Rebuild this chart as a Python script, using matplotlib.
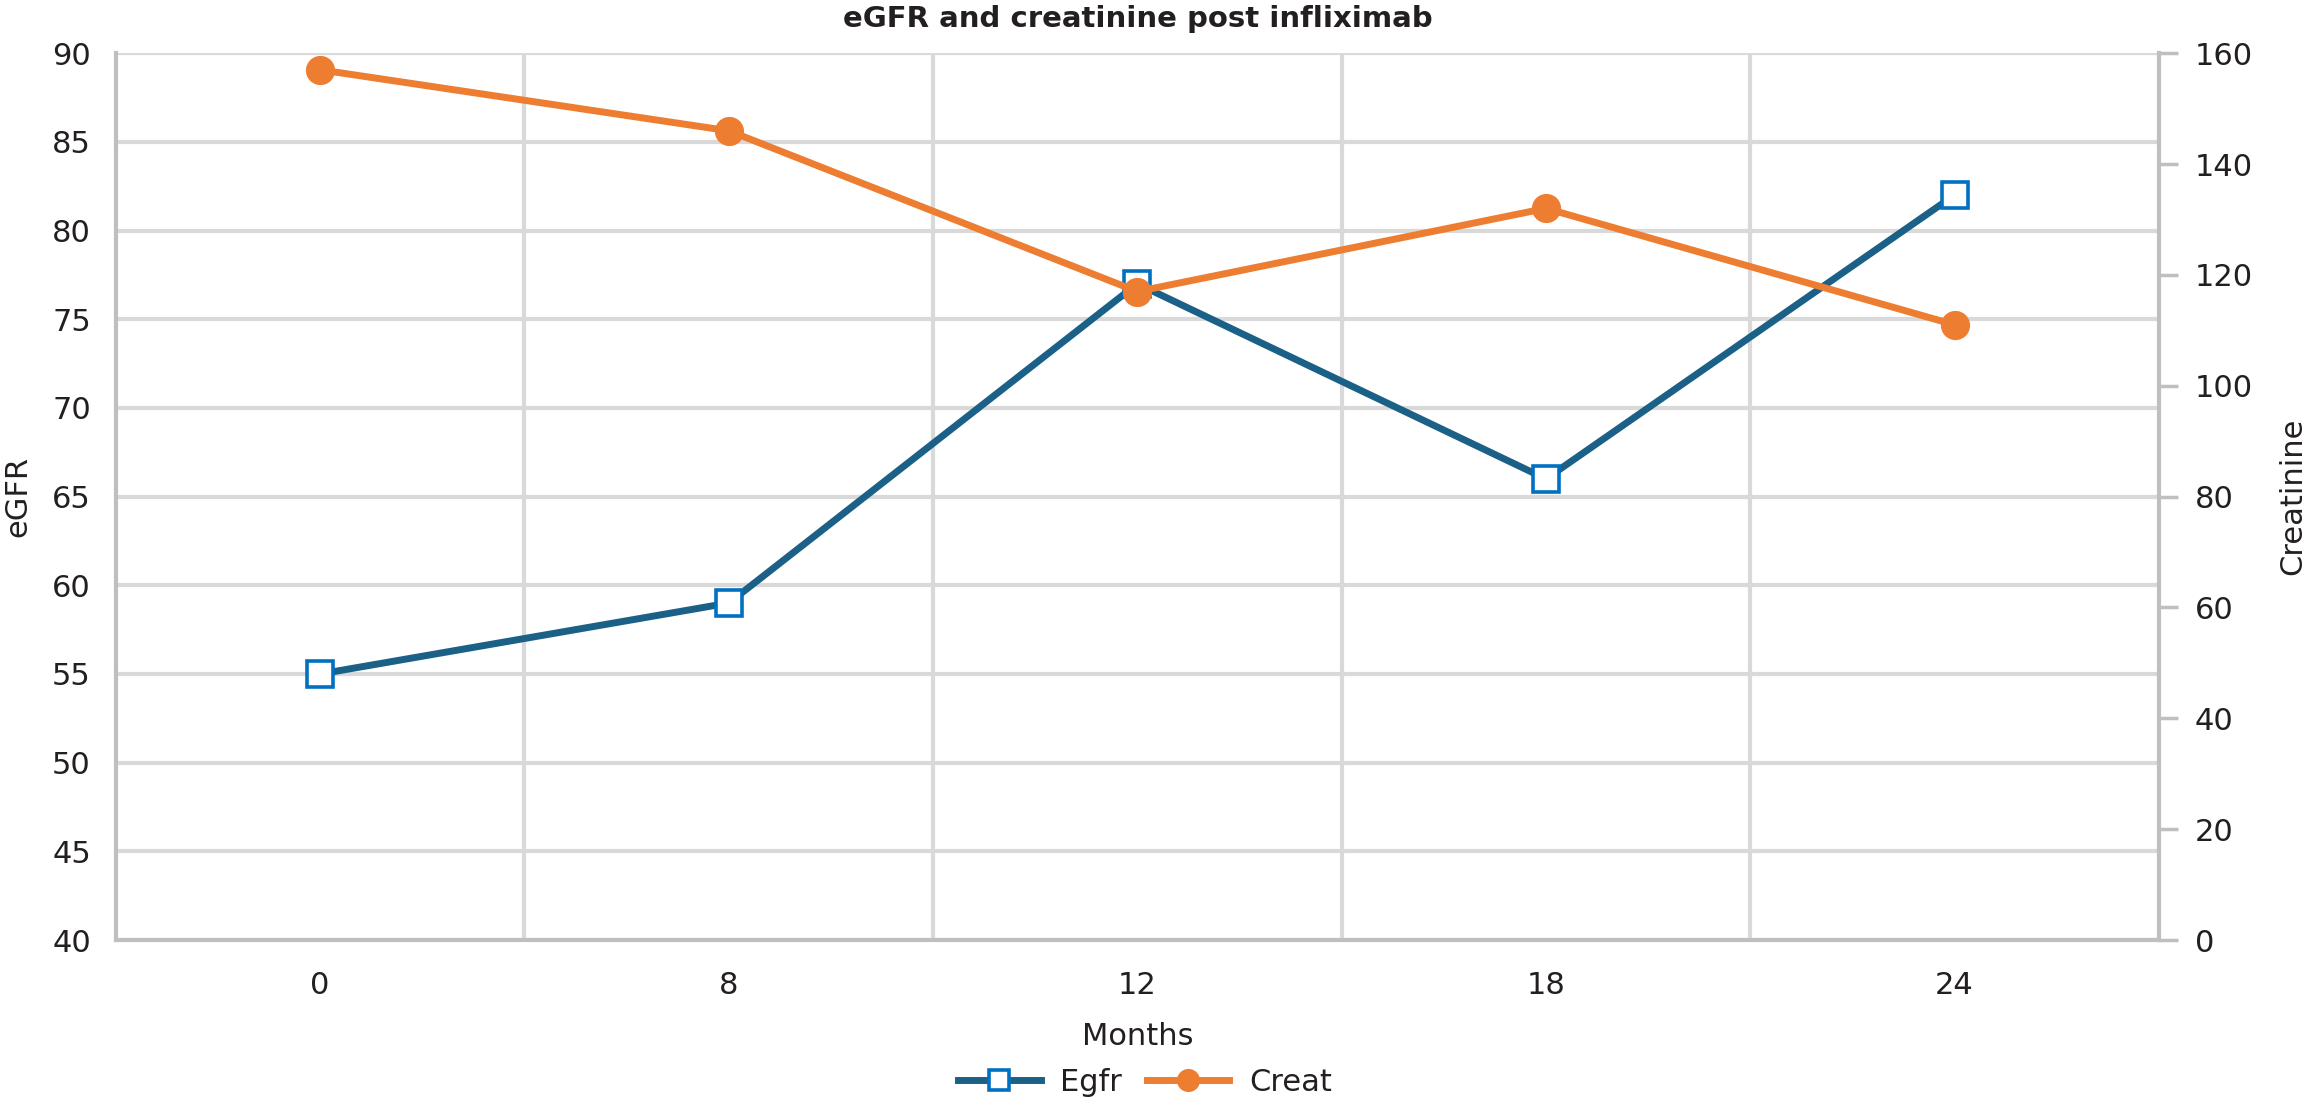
import matplotlib
matplotlib.use("Agg")
import matplotlib.pyplot as plt

months = ["0", "8", "12", "18", "24"]
egfr = [55, 59, 77, 66, 82]
creat = [157, 146, 117, 132, 111]

plt.rcParams['font.family'] = ['DejaVu Sans']
TXT = "#231F20"
GRID = "#D9D9D9"
SPINE = "#BFBFBF"

fig = plt.figure(figsize=(23.04, 11.08), dpi=100)
ax = fig.add_axes([0.0503, 0.1516, 0.8867, 0.8004])
ax2 = ax.twinx()

x = list(range(len(months)))
ax.plot(x, egfr, color="#1B6086", lw=5, marker="s", ms=18.5,
        mfc="white", mec="#0070C0", mew=2.6, zorder=3, label="Egfr")
ax2.plot(x, creat, color="#ED7D31", lw=5, marker="o", ms=20,
         mfc="#ED7D31", mec="#ED7D31", zorder=3, label="Creat")

ax.set_xlim(-0.5, len(months) - 0.5)
ax.set_ylim(40, 90)
ax.set_yticks(range(40, 91, 5))
ax2.set_ylim(0, 160)
ax2.set_yticks(range(0, 161, 20))

ax.set_xticks(x)
ax.set_xticklabels(months)
ax.set_xticks([i + 0.5 for i in range(len(months) - 1)], minor=True)

ax.grid(axis="y", which="major", color=GRID, lw=3)
ax.grid(axis="x", which="minor", color=GRID, lw=3)
ax.set_axisbelow(True)

ax.tick_params(axis="x", which="both", length=0, pad=22, labelsize=22, labelcolor=TXT)
ax.tick_params(axis="y", length=0, pad=18, labelsize=22, labelcolor=TXT)
ax2.tick_params(axis="y", length=14, width=2.5, color=SPINE, pad=12,
                labelsize=22, labelcolor=TXT)

for a in (ax, ax2):
    for s in a.spines.values():
        s.set_visible(False)
for name in ("left", "bottom"):
    ax.spines[name].set_visible(True)
    ax.spines[name].set_color(SPINE)
    ax.spines[name].set_linewidth(3)
ax2.spines["right"].set_visible(True)
ax2.spines["right"].set_color(SPINE)
ax2.spines["right"].set_linewidth(3)

ax.set_ylabel("eGFR", fontsize=22, color=TXT, labelpad=14)
ax2.set_ylabel("Creatinine", fontsize=22, color=TXT, labelpad=18)
ax.set_xlabel("Months", fontsize=22, color=TXT, labelpad=16)
ax.set_title("eGFR and creatinine post infliximab", fontsize=21,
             fontweight="bold", color=TXT, pad=19)

h1, l1 = ax.get_legend_handles_labels()
h2, l2 = ax2.get_legend_handles_labels()
fig.legend(h1 + h2, l1 + l2, loc="center", bbox_to_anchor=(0.497, 0.023),
           ncol=2, frameon=False, fontsize=22, handlelength=2.7,
           handletextpad=0.65, columnspacing=0.8, labelcolor=TXT,
           markerscale=0.78)

fig.savefig("out.png", dpi=100)
